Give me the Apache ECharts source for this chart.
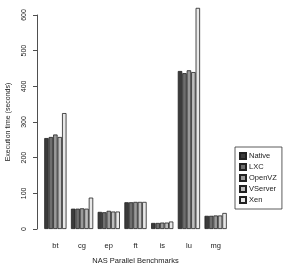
<!DOCTYPE html>
<html>
<head>
<meta charset="utf-8">
<script src="https://cdn.jsdelivr.net/npm/echarts@6/dist/echarts.min.js"></script>
<style>
html, body { margin: 0; padding: 0; background: #fff; }
#chart { width: 285px; height: 268px; }
</style>
</head>
<body>
<div id="chart"></div>
<script>
var benchmarks = ['bt', 'cg', 'ep', 'ft', 'is', 'lu', 'mg'];
var systems = ['Native', 'LXC', 'OpenVZ', 'VServer', 'Xen'];
var native  = [255, 57, 48, 75, 17, 443, 37];
var lxc     = [258, 57, 47, 75, 17, 437, 37];
var openvz  = [265, 58, 51, 76, 18, 445, 38];
var vserver = [258, 57, 49, 76, 18, 440, 38];
var xen     = [325, 88, 49, 76, 21, 620, 45];
var yTicks  = [0, 100, 200, 300, 400, 500, 600];

var values = [native, lxc, openvz, vserver, xen];
var colors = ['#3b3b3b', '#6e6e6e', '#9a9a9a', '#bdbdbd', '#e8e8e8'];
var font = 'Liberation Sans, Arial, sans-serif';

var chart = echarts.init(document.getElementById('chart'));

var series = [];
for (var i = 0; i < systems.length; i++) {
	series.push({
		name: systems[i],
		type: 'bar',
		data: values[i],
		clip: false,
		barGap: '0%',
		barCategoryGap: '16.7%',
		itemStyle: { color: colors[i], borderColor: '#222', borderWidth: 0.8 }
	});
}

var option = {
	animation: false,
	backgroundColor: '#fff',
	grid: { left: 42, top: 15, width: 187, height: 214, outerBoundsMode: 'none', containLabel: false },
	legend: {
		orient: 'vertical',
		left: 235,
		top: 147,
		data: systems,
		itemWidth: 6,
		itemHeight: 6,
		itemGap: 3,
		padding: [5, 5, 5, 4],
		borderColor: '#333',
		borderWidth: 0.8,
		icon: 'rect',
		textStyle: { fontSize: 7.5, color: '#222', fontFamily: font, padding: [0, 0, 0, -2] }
	},
	xAxis: {
		type: 'category',
		data: benchmarks,
		name: 'NAS Parallel Benchmarks',
		nameLocation: 'middle',
		nameGap: 28,
		nameTextStyle: { fontSize: 7.5, color: '#222', fontFamily: font },
		axisLine: { show: false },
		axisTick: { show: false },
		axisLabel: { margin: 13, fontSize: 7.5, color: '#222', fontFamily: font }
	},
	yAxis: {
		type: 'value',
		min: 0,
		max: 600,
		interval: 100,
		offset: 5,
		name: 'Execution time (seconds)',
		nameLocation: 'middle',
		nameGap: 25,
		nameTextStyle: { fontSize: 7, color: '#222', fontFamily: font },
		splitLine: { show: false },
		axisLine: { show: true, lineStyle: { color: '#222', width: 0.8 } },
		axisTick: { show: true, length: 4, lineStyle: { color: '#222', width: 0.8 } },
		axisLabel: {
			rotate: 90, margin: 9, fontSize: 7, color: '#222', fontFamily: font,
			formatter: function (v) { return yTicks.indexOf(v) >= 0 ? String(v) : ''; }
		}
	},
	series: series
};
chart.setOption(option);
</script>
</body>
</html>
